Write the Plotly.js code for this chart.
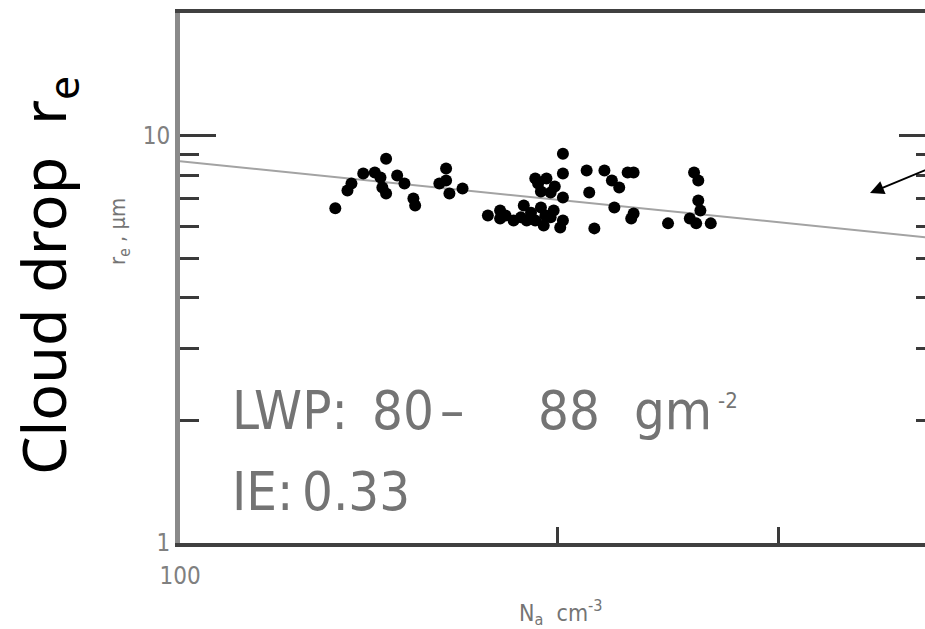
<!DOCTYPE html>
<html>
<head>
<meta charset="utf-8">
<script src="https://cdn.plot.ly/plotly-3.0.1.min.js"></script>
<style>
  html, body { margin: 0; padding: 0; background: #ffffff; overflow: hidden; }
  #chart { width: 940px; height: 629px; }
</style>
</head>
<body>
<div id="chart"></div>
<script>
// ---- data ----
const dropletNumber = [133, 136, 137, 140, 143, 144.5, 146, 145, 146, 149, 151, 154, 153.5,
  161, 163, 163, 164, 168, 176, 180, 180, 181.8, 184.5, 187, 188, 189, 190.5, 192, 193, 192,
  194, 194, 195, 195.6, 196, 197.5, 197.5, 198.6, 199, 202, 202, 202, 202, 201, 211, 212, 214,
  218, 221, 224, 222, 227.5, 230, 230, 229, 245, 257, 259, 259, 255, 260, 265, 258];
const effectiveRadius = [6.63, 7.33, 7.63, 8.07, 8.12, 7.89, 8.78, 7.46, 7.21, 7.98, 7.63, 6.74, 7.01,
  7.63, 8.30, 7.76, 7.21, 7.42, 6.37, 6.55, 6.26, 6.37, 6.19, 6.30, 6.74, 6.19, 6.47, 7.85, 7.63, 6.19,
  6.66, 7.29, 6.02, 6.37, 7.85, 7.25, 6.30, 6.55, 7.50, 9.03, 8.07, 7.05, 6.19, 5.95, 8.21, 7.25, 5.92,
  8.21, 7.76, 7.46, 6.66, 8.12, 8.12, 6.44, 6.26, 6.09, 8.12, 7.76, 6.93, 6.26, 6.55, 6.09, 6.09];
const fitNumber = [100, 400];
const fitRadius = [8.65, 5.6];
const yTickVals = [1, 10];
const yTickText = ['1', '10'];
const yMinorVals = [2, 3, 4, 5, 6, 7, 8, 9];
const xTickVals = [100, 200, 300];
const xTickText = ['100', '', ''];
const lwpText = ['LWP:', '80', '\u2013', '88', 'gm', '-2'];
const ieText = ['IE:', '0.33'];

// ---- styling ----
const NARROW = '"Liberation Sans Narrow", "DejaVu Sans Condensed", "Arial Narrow", sans-serif';
const GREY = '#747474';
const L = 180, R = 935, T = 13, B = 543;
const px = v => (v - L) / (R - L);
const py = v => (B - v) / (B - T);

const traces = [
  { x: fitNumber, y: fitRadius, mode: 'lines', line: { color: '#a3a3a3', width: 2 }, hoverinfo: 'skip' },
  { x: dropletNumber, y: effectiveRadius, mode: 'markers',
    marker: { color: '#000000', size: 12, line: { width: 0 } } }
];

const textAnn = (t, x, y, size, extra) => Object.assign({
  text: t, xref: 'paper', yref: 'paper', x: px(x), y: py(y),
  xanchor: 'left', yanchor: 'middle', showarrow: false,
  font: { family: NARROW, size: size, color: GREY }
}, extra || {});

const BIG = 54;
const annotations = [
  textAnn(lwpText[0], 230, 410.5, BIG),
  textAnn(lwpText[1], 370, 410.5, BIG),
  textAnn(lwpText[2], 438, 410.5, BIG),
  textAnn(lwpText[3], 536, 410.5, BIG),
  textAnn(lwpText[4], 632, 410.5, BIG),
  textAnn(lwpText[5], 716, 400, 22),
  textAnn(ieText[0], 230, 491.5, BIG),
  textAnn(ieText[1], 300, 491.5, BIG),
  { text: 'Cloud drop\u00A0\u00A0r<sub>e</sub>', xref: 'paper', yref: 'paper',
    x: px(46), y: py(276), xanchor: 'center', yanchor: 'middle', textangle: -90, showarrow: false,
    font: { family: '"Noto Sans", "Open Sans", sans-serif', size: 61, color: '#000000' } },
  { text: 'r<sub>e</sub> , \u03bcm', xref: 'paper', yref: 'paper',
    x: px(119), y: py(232), xanchor: 'center', yanchor: 'middle', textangle: -90, showarrow: false,
    font: { family: NARROW, size: 22, color: GREY } },
  { text: 'N<sub>a</sub>\u00A0\u00A0cm<sup>-3</sup>', xref: 'paper', yref: 'paper',
    x: px(560), y: py(612), xanchor: 'center', yanchor: 'middle', showarrow: false,
    font: { family: NARROW, size: 23, color: GREY } },
  { text: '', xref: 'paper', yref: 'paper', x: px(870), y: py(193),
    showarrow: true, ax: 70, ay: -29, axref: 'pixel', ayref: 'pixel',
    arrowhead: 2, arrowsize: 1.4, arrowwidth: 2, arrowcolor: '#000000' }
];

const layout = {
  width: 940, height: 629,
  margin: { l: L, r: 940 - R, t: T, b: 629 - B, pad: 0 },
  paper_bgcolor: '#ffffff', plot_bgcolor: '#ffffff',
  showlegend: false,
  xaxis: {
    type: 'log', range: [2, Math.log10(400)],
    tickvals: xTickVals, ticktext: xTickText,
    ticks: 'inside', ticklen: 16, tickwidth: 3, tickcolor: '#3a3a3a',
    showline: true, linewidth: 4, linecolor: '#404040', mirror: true,
    showgrid: false, zeroline: false,
    ticklabelstandoff: 8,
    tickfont: { family: NARROW, size: 24, color: '#808080' }
  },
  yaxis: {
    type: 'log', range: [0, Math.log10(20)],
    tickvals: yTickVals, ticktext: yTickText,
    ticks: 'inside', ticklen: 36, tickwidth: 3, tickcolor: '#3a3a3a',
    minor: { tickvals: yMinorVals, ticks: 'inside', ticklen: 19, tickwidth: 3, tickcolor: '#3a3a3a', showgrid: false },
    showline: true, linewidth: 5, linecolor: '#8a8a8a', mirror: 'allticks',
    showgrid: false, zeroline: false,
    tickfont: { family: NARROW, size: 24, color: '#808080' }
  },
  annotations: annotations
};

Plotly.newPlot('chart', traces, layout, { displayModeBar: false, staticPlot: true });
</script>
</body>
</html>
